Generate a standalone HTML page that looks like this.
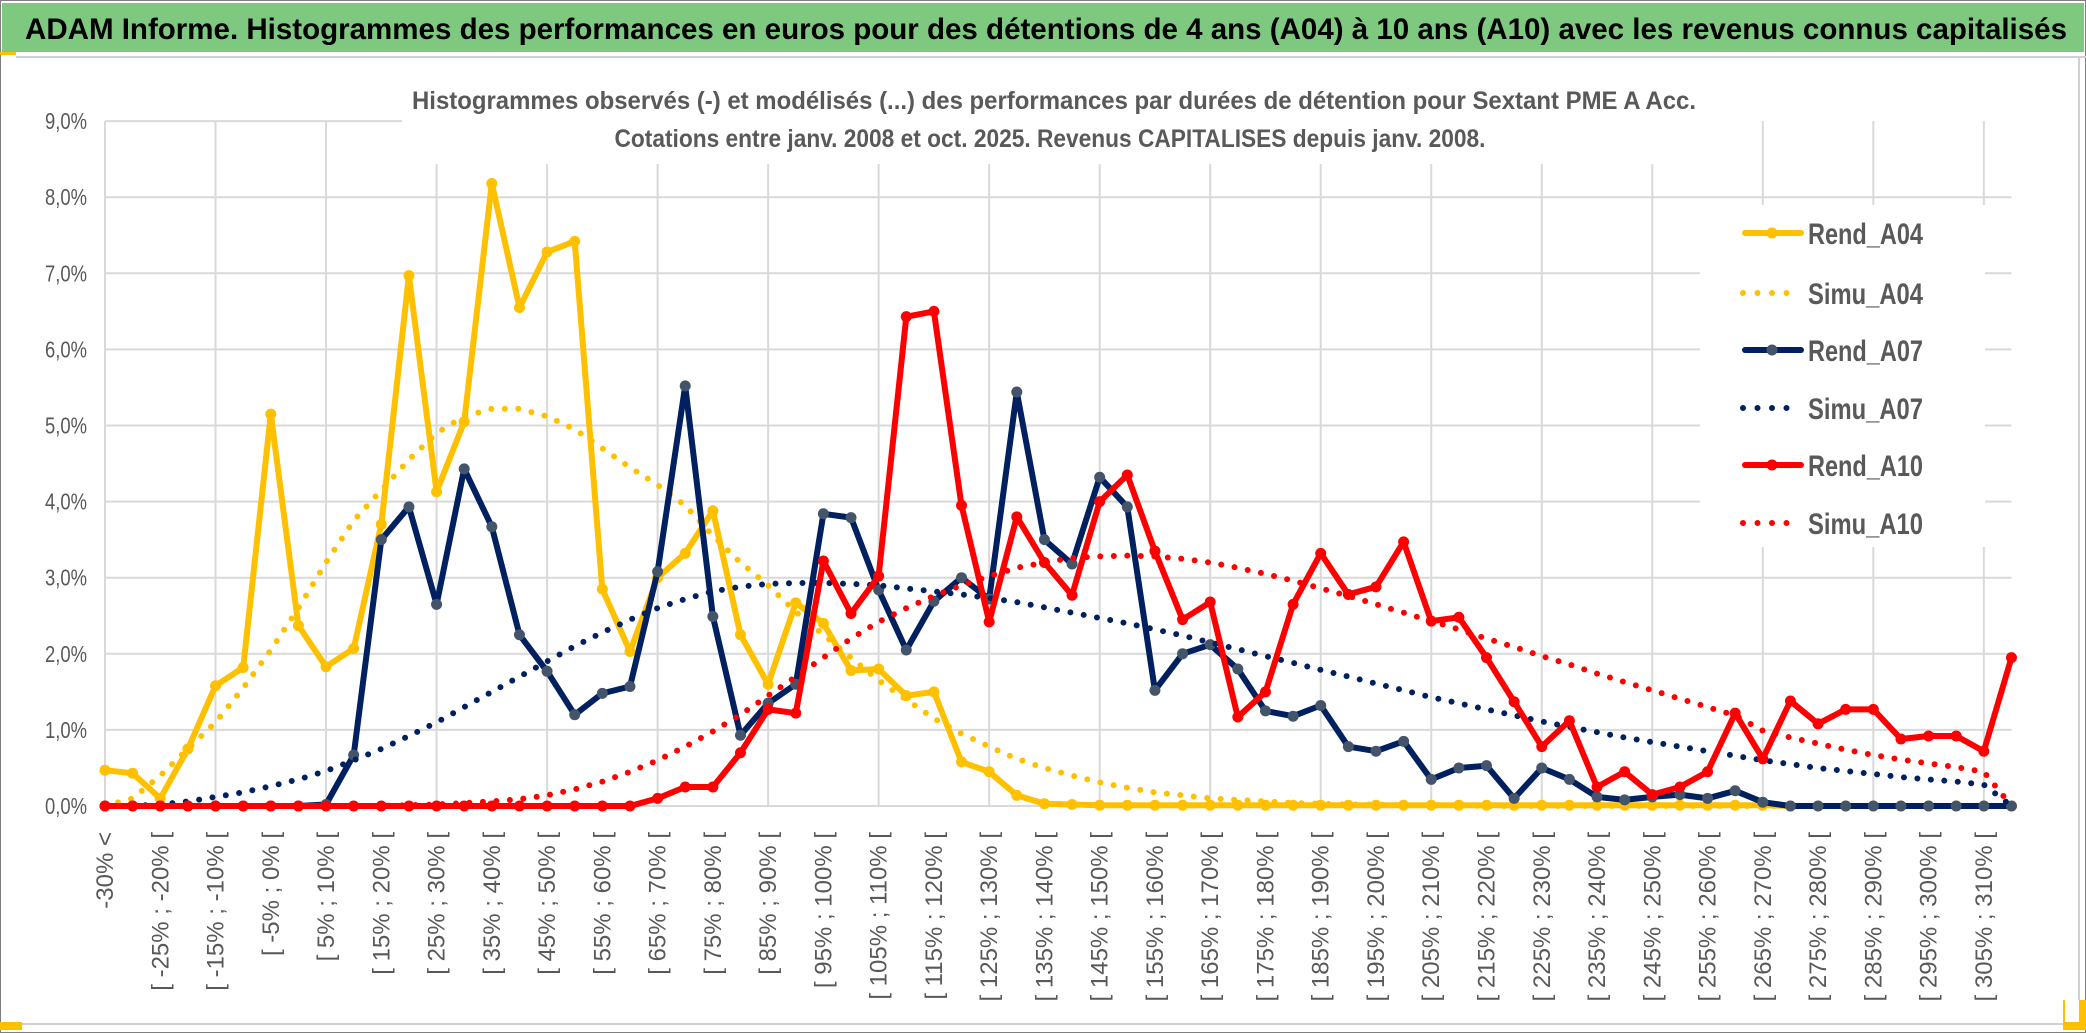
<!DOCTYPE html>
<html><head><meta charset="utf-8">
<style>
html,body{margin:0;padding:0;background:#fff;}
svg{display:block;font-family:"Liberation Sans",sans-serif;}
</style></head>
<body>
<svg id="chart" width="2086" height="1033" viewBox="0 0 2086 1033" xmlns="http://www.w3.org/2000/svg">
  <rect x="0" y="0" width="2086" height="1033" fill="#fff"/>
  <rect x="0.5" y="0.5" width="2085" height="1032" fill="none" stroke="#7f7f7f" stroke-width="1"/>
  <rect x="2" y="3" width="2082" height="49" fill="#7ec87f"/>
  <text x="25" y="39" font-size="30" font-weight="bold" fill="#000" textLength="2042" lengthAdjust="spacingAndGlyphs">ADAM Informe. Histogrammes des performances en euros pour des détentions de 4 ans (A04) à 10 ans (A10) avec les revenus connus capitalisés</text>
  <rect x="0" y="52" width="16" height="3" fill="#ffc000"/>
  <line x1="16" y1="57" x2="2086" y2="57" stroke="#d0d0d0" stroke-width="2"/>
  <line x1="2079" y1="57" x2="2079" y2="1025" stroke="#d0d0d0" stroke-width="2"/>
  <line x1="0" y1="1024" x2="2079" y2="1024" stroke="#d0d0d0" stroke-width="2"/>
  <rect x="0" y="1022" width="22" height="8" fill="#ffc000"/>
  <rect x="2063" y="1000" width="23" height="30" fill="#ffc000"/>
  <rect x="2065" y="1000" width="14" height="22" fill="#fff"/>
  <g id="grid"></g>
  <g id="yaxis"></g>
  <g id="xaxis"></g>
  <rect x="402" y="70" width="1300" height="94" fill="#fff"/>
  <text x="1054" y="109" text-anchor="middle" font-size="25" font-weight="bold" fill="#595959" textLength="1284" lengthAdjust="spacingAndGlyphs">Histogrammes observés (-) et modélisés (...) des performances par durées de détention pour Sextant PME A Acc.</text>
  <text x="1050" y="147" text-anchor="middle" font-size="25" font-weight="bold" fill="#595959" textLength="871" lengthAdjust="spacingAndGlyphs">Cotations entre janv. 2008 et oct. 2025. Revenus CAPITALISES depuis janv. 2008.</text>
  <g id="series"></g>
  <g id="legend"></g>
</svg>
<script>
// ---- data (percent values) ----
var categories = [];
categories.push("-30% <");
for (var c = 1; c < 70; c++) { var lo = -35 + 5 * c; categories.push("[ " + lo + "% ; " + (lo + 5) + "% ["); }
var yTicks = [0,1,2,3,4,5,6,7,8,9];
var yTickLabels = ["0,0%","1,0%","2,0%","3,0%","4,0%","5,0%","6,0%","7,0%","8,0%","9,0%"];
var seriesNames = ["Rend_A04","Simu_A04","Rend_A07","Simu_A07","Rend_A10","Simu_A10"];

var rendA04 = [0.47,0.43,0.1,0.75,1.58,1.82,5.15,2.37,1.83,2.07,3.7,6.97,4.13,5.05,8.18,6.55,7.28,7.42,2.85,2.03,3.0,3.32,3.88,2.25,1.6,2.67,2.4,1.78,1.8,1.45,1.5,0.58,0.45,0.14,0.03,0.02,0.01,0.01,0.01,0.01,0.01,0.01,0.01,0.01,0.01,0.01,0.01,0.01,0.01,0.01,0.01,0.01,0.01,0.01,0.01,0.01,0.01,0.01,0.01,0.01,0.01,0,0,0,0,0,0,0,0,0];
var simuA04 = [0.0,0.1,0.4,0.75,1.1,1.55,2.05,2.6,3.2,3.75,4.15,4.55,4.9,5.12,5.22,5.22,5.12,4.95,4.7,4.45,4.22,3.95,3.55,3.2,2.9,2.55,2.25,1.95,1.65,1.4,1.15,0.95,0.78,0.62,0.5,0.4,0.31,0.24,0.18,0.14,0.1,0.08,0.06,0.04,0.03,0.02,0.02,0.01,0.01,0.01,0,0,0,0,0,0,0,0,0,0,0,0,0,0,0,0,0,0,0,0];
var rendA07 = [0,0,0,0,0,0,0,0,0.02,0.67,3.5,3.93,2.65,4.43,3.67,2.25,1.77,1.2,1.48,1.57,3.08,5.52,2.49,0.93,1.35,1.6,3.84,3.79,2.84,2.05,2.69,3.0,2.72,5.44,3.5,3.18,4.32,3.93,1.52,2.0,2.12,1.8,1.25,1.18,1.32,0.78,0.72,0.85,0.35,0.5,0.53,0.1,0.5,0.35,0.12,0.08,0.12,0.15,0.1,0.2,0.05,0,0,0,0,0,0,0,0,0];
var simuA07 = [0,0,0.02,0.06,0.12,0.18,0.26,0.35,0.46,0.6,0.75,0.92,1.1,1.3,1.5,1.7,1.9,2.1,2.28,2.45,2.6,2.72,2.82,2.88,2.92,2.93,2.93,2.92,2.9,2.86,2.82,2.78,2.73,2.68,2.61,2.54,2.47,2.4,2.32,2.24,2.15,2.06,1.97,1.88,1.79,1.7,1.61,1.52,1.43,1.35,1.27,1.19,1.11,1.04,0.97,0.9,0.84,0.78,0.72,0.66,0.6,0.55,0.5,0.46,0.42,0.38,0.35,0.32,0.28,0.0];
var rendA10 = [0,0,0,0,0,0,0,0,0,0,0,0,0,0,0,0,0,0,0,0,0.1,0.25,0.25,0.7,1.27,1.22,3.22,2.53,3.02,6.43,6.5,3.95,2.42,3.8,3.2,2.77,4.0,4.35,3.35,2.45,2.68,1.17,1.5,2.65,3.32,2.78,2.88,3.47,2.43,2.48,1.95,1.37,0.78,1.12,0.25,0.45,0.15,0.25,0.45,1.22,0.62,1.38,1.08,1.27,1.27,0.88,0.92,0.92,0.72,1.95];
var simuA10 = [0,0,0,0,0,0,0,0,0,0,0,0.01,0.02,0.04,0.06,0.09,0.14,0.22,0.32,0.45,0.6,0.78,0.98,1.2,1.45,1.7,1.95,2.2,2.42,2.6,2.76,2.9,3.02,3.13,3.2,3.26,3.28,3.29,3.28,3.25,3.2,3.13,3.05,2.96,2.86,2.76,2.65,2.54,2.43,2.32,2.2,2.09,1.97,1.86,1.74,1.63,1.52,1.41,1.3,1.19,0.99,0.9,0.82,0.74,0.67,0.61,0.56,0.51,0.45,0.0];

// ---- axes ----
var X0 = 105, XSTEP = 27.63, Y0 = 806, YUNIT = 76.1;
function xPos(i) { return X0 + i * XSTEP; }
function yPos(v) { return Y0 - v * YUNIT; }
var NS = "http://www.w3.org/2000/svg";
function mk(tag, attrs, parent) {
  var e = document.createElementNS(NS, tag);
  for (var k in attrs) e.setAttribute(k, attrs[k]);
  parent.appendChild(e);
  return e;
}
var grid = document.getElementById("grid");
var yaxis = document.getElementById("yaxis");
var xaxis = document.getElementById("xaxis");
var sg = document.getElementById("series");
var lg = document.getElementById("legend");
var xRight = xPos(categories.length - 1);

for (var t = 0; t < yTicks.length; t++) {
  var yy = yPos(yTicks[t]);
  var gl = mk("line", {x1: X0, x2: (yTicks[t] === 9 ? 402 : xRight), y1: yy, y2: yy, stroke: "#d9d9d9", "stroke-width": 2}, grid);
  
  
  var tl = mk("text", {x: 87, y: yy + 8, "text-anchor": "end", "font-size": 23, fill: "#595959", textLength: 42, lengthAdjust: "spacingAndGlyphs"}, yaxis);
  tl.textContent = yTickLabels[t];
  
  
}
for (var g = 0; g < categories.length; g += 4) {
  var gx = xPos(g);
  var vl = mk("line", {x1: gx, x2: gx, y1: yPos(9), y2: Y0, stroke: "#d9d9d9", "stroke-width": 2}, grid);
  
  
}
for (var i = 0; i < categories.length; i += 2) {
  var lx = xPos(i) + 8;
  var xl = mk("text", {x: lx, y: 832, "text-anchor": "end", "font-size": 24, fill: "#595959", transform: "rotate(-90 " + lx + " 832)"}, xaxis);
  xl.textContent = categories[i];
  
  
}

function pts(vals) {
  var s = [];
  for (var i = 0; i < vals.length; i++) s.push(xPos(i).toFixed(1) + "," + yPos(vals[i]).toFixed(1));
  return s.join(" ");
}
function drawSolid(vals, color, mcolor, name) {
  var p = mk("polyline", {points: pts(vals), fill: "none", stroke: color, "stroke-width": 6, "stroke-linejoin": "round"}, sg);
  
  
  for (var i = 0; i < vals.length; i++) {
    var m = mk("circle", {cx: xPos(i), cy: yPos(vals[i]), r: 5.5, fill: mcolor}, sg);
    
    
  }
}
function drawDotted(vals, color, name) {
  var p = mk("polyline", {points: pts(vals), fill: "none", stroke: color, "stroke-width": 6, "stroke-linecap": "round", "stroke-dasharray": "0 13.5"}, sg);
  
  
}
drawSolid(rendA04, "#ffc000", "#ffc000", "rend-a04");
drawDotted(simuA04, "#ffc000", "simu-a04");
drawSolid(rendA07, "#002060", "#44546a", "rend-a07");
drawDotted(simuA07, "#002060", "simu-a07");
drawSolid(rendA10, "#ff0000", "#ff0000", "rend-a10");
drawDotted(simuA10, "#ff0000", "simu-a10");

var lb = mk("rect", {x: 1700, y: 205, width: 285, height: 342, fill: "#fff"}, lg);


var lys = [233, 293, 350, 408, 465, 523];
var lcolors = ["#ffc000","#ffc000","#002060","#002060","#ff0000","#ff0000"];
var lmark = ["#ffc000", null, "#44546a", null, "#ff0000", null];
for (var k = 0; k < seriesNames.length; k++) {
  var ly = lys[k];
  var e;
  if (lmark[k]) {
    e = mk("line", {x1: 1745, x2: 1801, y1: ly, y2: ly, stroke: lcolors[k], "stroke-width": 6, "stroke-linecap": "round"}, lg);
    
    
    var mc = mk("circle", {cx: 1772, cy: ly, r: 5.5, fill: lmark[k]}, lg);
    
    
  } else {
    e = mk("line", {x1: 1743, x2: 1800, y1: ly, y2: ly, stroke: lcolors[k], "stroke-width": 6, "stroke-linecap": "round", "stroke-dasharray": "0 14.5"}, lg);
    
    
  }
  var tx = mk("text", {x: 1808, y: ly + 11, "font-size": 30, "font-weight": "bold", fill: "#595959", textLength: 115, lengthAdjust: "spacingAndGlyphs"}, lg);
  tx.textContent = seriesNames[k];
  
  
}
</script>
</body></html>
